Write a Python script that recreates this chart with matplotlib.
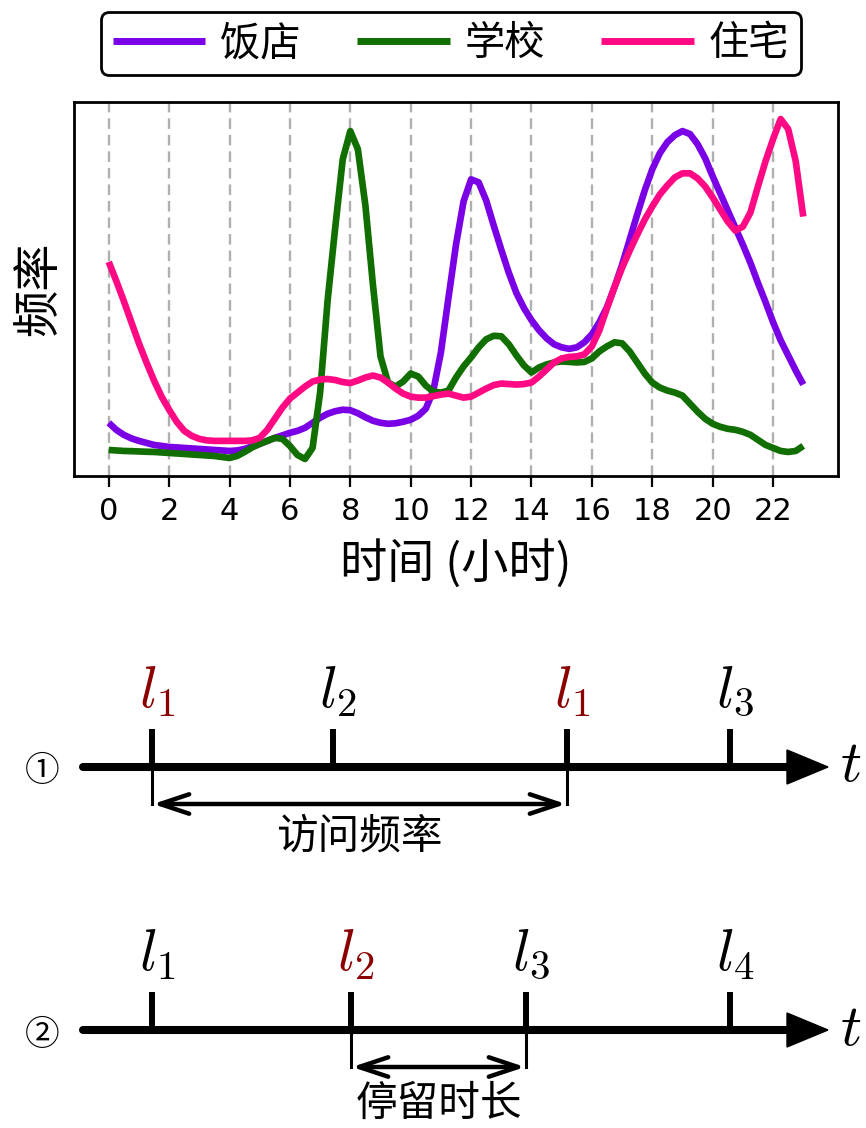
import matplotlib
matplotlib.use('Agg')
import matplotlib.pyplot as plt
import numpy as np
from matplotlib.patches import Polygon

plt.rcParams['font.family'] = ['Noto Sans CJK SC', 'DejaVu Sans']
plt.rcParams['mathtext.fontset'] = 'cm'
plt.rcParams['axes.unicode_minus'] = False

# ---------------- data (every quarter hour) ----------------
hours = np.arange(0, 23.001, 0.25)

restaurant = [5.8, 5.1, 4.6, 4.25, 4.0, 3.8, 3.6, 3.5, 3.4, 3.35, 3.3, 3.25,
              3.2, 3.15, 3.1, 3.05, 3.0, 3.05, 3.2, 3.45, 3.7, 4.0, 4.3, 4.55,
              4.8, 5.0, 5.3, 5.8, 6.3, 6.7, 6.95, 7.1, 7.05, 6.75, 6.35, 6.0,
              5.8, 5.7, 5.75, 5.9, 6.1, 6.5, 7.2, 9.0, 12.8, 18.2, 23.5, 27.8,
              30.0, 29.7, 27.9, 25.4, 23.0, 20.7, 18.7, 17.2, 16.0, 15.0, 14.2, 13.6,
              13.3, 13.15, 13.3, 13.8, 14.6, 15.8, 17.3, 19.3, 21.5, 24.0, 26.5, 28.9,
              31.0, 32.6, 33.7, 34.4, 34.8, 34.5, 33.5, 32.1, 30.3, 28.6, 26.9, 25.2,
              23.5, 21.7, 19.7, 17.8, 15.8, 14.0, 12.5, 11.0, 9.6]

school = [3.1, 3.05, 3.0, 2.98, 2.95, 2.92, 2.9, 2.85, 2.8, 2.75, 2.7, 2.65,
          2.6, 2.55, 2.5, 2.4, 2.3, 2.5, 2.9, 3.35, 3.7, 4.0, 4.3, 4.2,
          3.5, 2.6, 2.2, 3.3, 8.8, 18.0, 25.2, 32.0, 34.8, 33.0, 27.4, 19.5,
          12.4, 9.8, 9.4, 9.9, 10.7, 10.4, 9.5, 8.9, 8.8, 9.0, 10.3, 11.4,
          12.3, 13.3, 14.1, 14.45, 14.4, 13.6, 12.5, 11.5, 10.8, 11.3, 11.6, 11.8,
          11.9, 11.85, 11.8, 11.85, 12.2, 12.9, 13.4, 13.8, 13.7, 12.9, 11.8, 10.7,
          9.8, 9.3, 9.0, 8.8, 8.5, 7.7, 6.9, 6.2, 5.7, 5.4, 5.2, 5.1,
          4.9, 4.6, 4.1, 3.6, 3.3, 3.0, 2.9, 3.0, 3.5]

residence = [21.8, 19.9, 17.9, 15.8, 13.7, 11.8, 10.0, 8.4, 7.1, 5.9, 5.0, 4.5,
             4.2, 4.05, 4.0, 4.0, 4.0, 4.0, 4.0, 4.05, 4.3, 5.1, 6.2, 7.3,
             8.2, 8.8, 9.4, 9.9, 10.1, 10.15, 10.05, 9.85, 9.75, 10.0, 10.3, 10.5,
             10.3, 9.8, 9.2, 8.7, 8.4, 8.3, 8.3, 8.45, 8.6, 8.7, 8.5, 8.3,
             8.4, 8.8, 9.2, 9.55, 9.7, 9.65, 9.6, 9.65, 9.8, 10.4, 11.1, 11.8,
             12.2, 12.35, 12.4, 12.6, 13.4, 15.0, 17.2, 19.3, 21.2, 22.9, 24.5, 26.0,
             27.3, 28.5, 29.4, 30.2, 30.6, 30.6, 30.1, 29.3, 28.2, 27.0, 25.8, 24.9,
             25.3, 26.7, 29.3, 31.8, 34.0, 36.0, 35.0, 31.8, 26.3]

series_names = ['饭店', '学校', '住宅']
series_colors = ['#7a00e6', '#116e00', '#ff0a84']
xticks = list(range(0, 23, 2))
xlabel = '时间 (小时)'
ylabel = '频率'

diagram1_labels = ['$l_1$', '$l_2$', '$l_1$', '$l_3$']
diagram1_highlight = [True, False, True, False]
diagram1_caption = '访问频率'
diagram2_labels = ['$l_1$', '$l_2$', '$l_3$', '$l_4$']
diagram2_highlight = [False, True, False, False]
diagram2_caption = '停留时长'

# ---------------- figure ----------------
W, H = 866, 1128
fig = plt.figure(figsize=(W / 100, H / 100), dpi=100)

ax = fig.add_axes([74 / W, 1 - 476 / H, (838 - 74) / W, (476 - 102) / H])
lines = []
for vals, name, col in zip([restaurant, school, residence], series_names, series_colors):
    ln, = ax.plot(hours, vals, color=col, lw=4.8, label=name,
                  solid_capstyle='butt', solid_joinstyle='round')
    lines.append(ln)

ax.set_xticks(xticks)
ax.set_xticklabels([str(t) for t in xticks], fontfamily='DejaVu Sans', fontsize=22)
ax.set_yticks([])
ax.tick_params(axis='x', length=8, width=1.6, pad=7)
for sp in ax.spines.values():
    sp.set_linewidth(2)
ax.grid(axis='x', color='#b0b0b0', lw=1.7, dashes=(4.5, 2.5))
ax.set_axisbelow(True)
ax.set_xlabel(xlabel, fontsize=34, labelpad=10)
ax.set_ylabel(ylabel, fontsize=34, labelpad=8)

leg = fig.legend(handles=lines, labels=series_names, loc='center',
                 bbox_to_anchor=(451 / W, 1 - 43.5 / H), ncol=3, fontsize=29,
                 frameon=True, fancybox=True, edgecolor='k', framealpha=1,
                 handlelength=2.3, handletextpad=0.37, columnspacing=1.4,
                 borderpad=0.28)
leg.get_frame().set_linewidth(2)
for lh in leg.get_lines():
    lh.set_linewidth(5)

# ---------------- timeline diagrams ----------------
ax2 = fig.add_axes([0, 0, 1, 1], zorder=-1)
ax2.set_xlim(0, W)
ax2.set_ylim(H, 0)
ax2.axis('off')
ax2.patch.set_alpha(0)

RED = '#8b0000'


def timeline(y0, tick_x, labels, highlight, bracket, caption, cap_dy, marker):
    ax2.plot([83, 795], [y0, y0], color='k', lw=5.8, solid_capstyle='round')
    ax2.add_patch(Polygon([[787, y0 - 17], [787, y0 + 17], [828, y0]],
                          closed=True, color='k'))
    ax2.text(851, y0 - 2, '$t$', fontsize=42, ha='center', va='center')
    for x, lab, hl in zip(tick_x, labels, highlight):
        ax2.plot([x, x], [y0, y0 - 38], color='k', lw=4.3, solid_capstyle='butt')
        ax2.text(x + 5, y0 - 46, lab, color=RED if hl else 'k', fontsize=42,
                 ha='center', va='bottom')
    i, j = bracket
    xa, xb = tick_x[i], tick_x[j]
    yb = y0 + 37
    ax2.plot([xa, xa], [y0, yb], color='k', lw=2.2)
    ax2.plot([xb, xb], [y0, yb], color='k', lw=2.2)
    ax2.annotate('', xy=(xa + 1, yb), xytext=(xb - 1, yb),
                 arrowprops=dict(arrowstyle='<->,head_length=2.1,head_width=0.7',
                                 lw=3.2, color='k', shrinkA=0, shrinkB=0))
    ax2.text((xa + xb) / 2, y0 + cap_dy, caption, fontsize=30, ha='center', va='center')
    ax2.text(42, y0 + 5, marker, fontsize=25, ha='center', va='center',
             fontfamily=['Noto Sans CJK SC', 'DejaVu Sans'])


timeline(767, [152, 333, 567, 730], diagram1_labels, diagram1_highlight, (0, 2),
         diagram1_caption, 70, '①')
timeline(1030, [152, 351, 526, 730], diagram2_labels, diagram2_highlight, (1, 2),
         diagram2_caption, 74, '②')

fig.savefig('out.png', dpi=100)
